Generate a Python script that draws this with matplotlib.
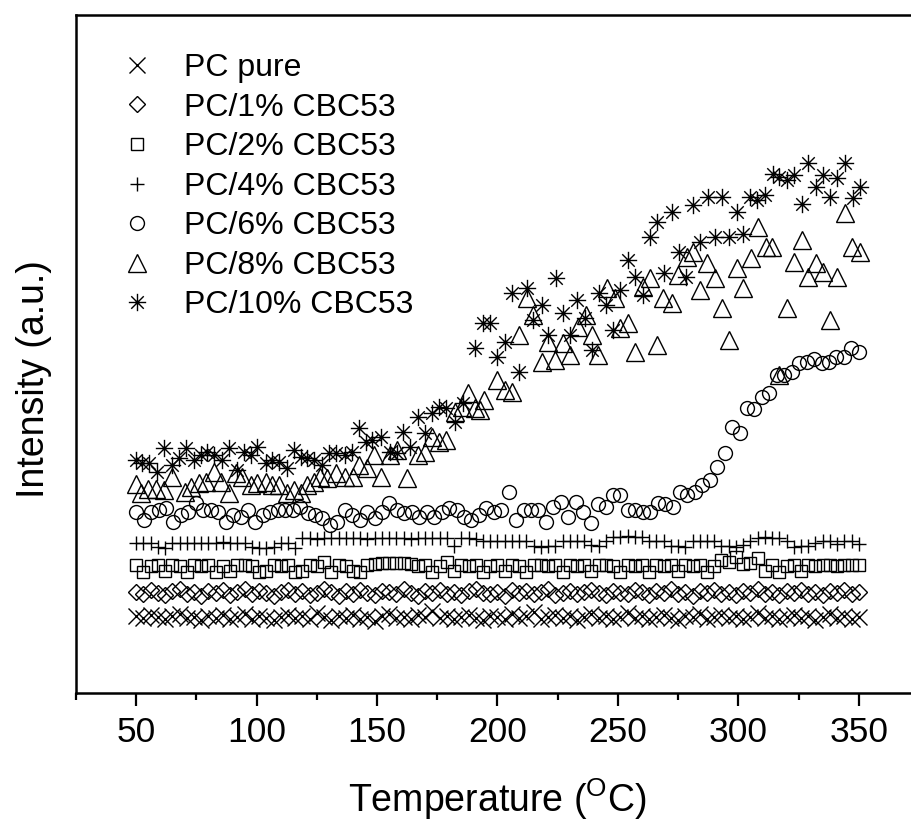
import numpy as np
import matplotlib
matplotlib.use("Agg")
import matplotlib.pyplot as plt
from matplotlib.path import Path
from matplotlib.legend_handler import HandlerTuple

plt.rcParams['font.family'] = ['Liberation Sans', 'DejaVu Sans']
plt.rcParams['mathtext.fontset'] = 'custom'
plt.rcParams['mathtext.rm'] = 'Liberation Sans'

# ---------------- data (intensity in arbitrary units) ----------------
labels = ["PC pure", "PC/1% CBC53", "PC/2% CBC53", "PC/4% CBC53",
          "PC/6% CBC53", "PC/8% CBC53", "PC/10% CBC53"]

pc_pure = [77,75,78,76,74,77,79,75,76,73,77,75,78,74,76,79,74,77,75,73,
           76,78,75,77,74,80,76,73,77,75,78,74,76,72,77,79,75,76,74,78,
           76,82,75,77,74,76,78,75,73,77,76,74,79,75,77,81,74,76,78,75,
           77,73,76,79,75,77,74,76,80,75,77,74,76,78,75,73,77,76,79,74,
           76,78,75,77,74,76,80,75,77,74,76,78,75,77,73,76,79,75,77,74,76]

pc_1 = [101,99,103,100,98,102,104,99,101,97,102,100,103,98,101,104,99,102,100,97,
        101,103,99,102,98,100,104,101,97,102,99,103,100,98,102,101,99,104,100,97,
        102,100,103,99,101,98,102,104,100,99,101,97,103,100,102,99,101,104,98,100,
        102,99,101,103,100,98,102,100,99,103,101,98,102,100,104,99,101,97,102,100,
        103,99,101,98,102,100,104,99,101,98,102,100,103,99,101,98,102,100,103,99,101]

pc_2 = [128,121,127,128,122,128,127,121,128,127,
        128,121,127,122,128,128,127,121,122,128,
        127,128,121,122,128,127,131,121,128,127,
        122,121,128,129,130,130,130,130,129,127,
        128,121,127,131,122,128,127,128,121,127,
        128,122,128,127,121,128,128,127,128,121,
        128,127,128,122,128,128,127,121,128,127,
        128,121,128,127,128,122,128,127,128,121,
        127,133,131,136,129,130,135,122,128,121,
        127,128,122,128,127,128,128,127,128,128,128]

pc_4 = [150,150,150,146,145,150,150,150,150,150,
        150,150,151,150,150,150,146,145,145,146,
        150,150,145,155,155,154,155,155,155,155,
        155,155,154,155,155,155,155,155,154,155,
        155,155,155,155,147,155,155,154,152,152,
        152,152,152,152,152,147,146,147,147,152,
        152,152,152,148,147,152,156,156,157,156,
        156,152,152,152,147,147,146,152,152,152,
        152,147,147,146,148,152,155,156,155,155,
        152,146,147,147,150,152,152,149,152,152,149]

pc_6 = [181,173,181,183,185,171,178,181,190,183,
        183,181,171,178,176,183,171,178,181,183,
        183,183,186,180,178,175,168,171,183,178,
        173,181,175,181,190,183,180,181,176,181,
        176,181,185,183,176,173,
        178,185,181,183,201,173,183,183,183,
        171,186,191,176,191,181,170,189,186,198,
        198,183,183,181,181,190,189,186,201,198,
        201,208,213,226,240,266,260,285,284,296,
        300,318,318,321,330,331,334,330,331,336,
        336,345,341]

pc_8_T = [50.0,52.1,55.0,58.3,61.6,65.0,70.4,72.9,76.2,79.1,
          82.4,85.3,88.7,91.6,94.1,97.8,100.3,104.0,106.5,109.4,
          112.8,115.7,118.6,121.1,124.0,126.1,129.4,133.1,136.5,139.8,
          142.7,146.0,148.9,151.8,155.2,158.1,162.6,166.8,169.7,172.6,
          175.9,178.8,182.2,185.1,187.6,190.5,192.6,194.6,199.6,203.0,
          205.9,208.8,212.1,214.6,218.3,220.8,223.7,227.1,230.0,233.3,
          236.6,239.1,241.6,245.3,248.7,250.7,254.1,257.0,260.3,263.2,
          266.1,268.6,272.4,274.9,278.6,281.1,284.0,286.9,290.2,293.1,
          296.0,299.4,301.9,305.2,308.1,311.4,313.9,316.8,320.2,323.1,
          326.4,328.9,332.2,335.1,338.0,340.9,344.3,347.2,350.5]
pc_8 = [209,200,204,204,203,216,201,206,210,211,
        221,211,200,220,216,208,210,211,208,208,
        200,203,200,208,211,216,215,220,216,216,
        228,225,238,216,238,243,215,238,241,256,
        251,253,281,286,300,285,283,293,313,303,
        301,358,395,378,331,351,333,350,338,366,
        378,358,338,405,395,365,370,341,406,415,
        348,395,390,418,436,441,403,430,415,385,
        353,425,405,435,466,446,446,318,385,431,
        453,416,430,421,373,416,480,446,441]

pc_10_T = [50.0,52.5,55.4,58.7,61.6,65.0,67.9,70.8,74.1,77.0,
           79.5,82.4,85.7,88.7,92.0,94.9,97.8,100.3,104.0,106.5,
           109.4,112.8,115.7,118.6,121.1,124.0,127.3,130.2,133.1,136.5,
           139.4,142.7,145.6,148.1,151.8,155.2,158.1,160.6,163.5,166.8,
           169.7,172.6,175.9,178.8,182.2,185.5,190.5,193.8,196.7,199.6,
           203.0,205.9,208.8,212.1,214.6,218.3,220.8,224.1,227.1,230.0,
           232.9,236.2,239.1,242.0,244.9,247.8,250.7,254.1,257.0,260.3,
           263.2,266.1,269.0,272.4,275.3,278.2,281.1,284.0,287.3,290.2,
           293.1,296.0,299.4,301.9,304.8,307.7,311.0,314.3,316.8,320.2,
           323.1,326.4,328.9,332.2,335.1,338.0,340.9,344.3,347.6,350.5]
pc_10 = [233,230,230,221,245,228,235,245,233,238,
         241,238,233,245,223,241,238,246,230,233,
         231,225,243,236,235,233,228,240,240,238,
         241,265,251,253,256,241,240,261,246,276,
         260,280,286,285,271,290,345,370,370,336,
         351,400,321,405,373,388,358,415,380,358,
         393,375,343,400,388,363,403,433,416,398,
         456,471,420,481,441,416,488,451,496,456,
         496,456,481,459,496,493,498,519,516,513,
         518,489,530,506,518,496,515,530,495,506]

x_major = [50, 100, 150, 200, 250, 300, 350]
x_minor = [25, 75, 125, 175, 225, 275, 325, 375]

# ---------------- figure ----------------
W, H = 911, 821
fig = plt.figure(figsize=(W / 100, H / 100), dpi=100)
ax = fig.add_axes([76 / W, (H - 693) / H, 843 / W, 678 / H])
ax.set_xlim(25, 375)
ax.set_ylim(0, 678)

d = 0.72
star_path = Path([(0, -1), (0, 1), (-1, 0), (1, 0), (-d, -d), (d, d), (-d, d), (d, -d)],
                 [Path.MOVETO, Path.LINETO] * 4)

mew = 1.0
common = dict(linestyle='none', color='black', markerfacecolor='none', markeredgewidth=mew)

def grid(vals):
    return np.linspace(50, 350, len(vals))

h0, = ax.plot(grid(pc_pure), pc_pure, marker='x', markersize=11, **common)
h1, = ax.plot(grid(pc_1), pc_1, marker='D', markersize=7.8, **common)
h2, = ax.plot(grid(pc_2), pc_2, marker='s', markersize=9.3, **common)
h3, = ax.plot(grid(pc_4), pc_4, marker='+', markersize=10.5, **common)
h4, = ax.plot(grid(pc_6), pc_6, marker='o', markersize=10, **common)
h5, = ax.plot(pc_8_T, pc_8, marker='^', markersize=12.5, **common)
h6, = ax.plot(pc_10_T, pc_10, marker=star_path, markersize=12.5, **common)
h6d, = ax.plot(pc_10_T, pc_10, linestyle='none', marker='o', markersize=2.6,
               color='black', markeredgewidth=0)

for s in ax.spines.values():
    s.set_linewidth(1.8)
ax.set_xticks(x_major)
ax.set_xticks(x_minor, minor=True)
ax.set_yticks([])
ax.tick_params(axis='x', which='major', direction='out', length=9.5, width=1.6,
               labelsize=25.5, pad=7)
ax.tick_params(axis='x', which='minor', direction='out', length=5, width=1.6)

ax.set_xlabel('Temperature ($\\mathregular{^{O}}$C)', fontsize=27, labelpad=20)
ax.set_ylabel('Intensity (a.u.)', fontsize=27)
ax.yaxis.set_label_coords(-0.029, 0.463)

leg = ax.legend([h0, h1, h2, h3, h4, h5, (h6, h6d)], labels,
                loc='upper left', bbox_to_anchor=(105 / W, 1 - 53 / H),
                bbox_transform=fig.transFigure, frameon=False, fontsize=23,
                handlelength=2, handletextpad=0.47, labelspacing=0.30,
                borderpad=0, borderaxespad=0, numpoints=1,
                handler_map={tuple: HandlerTuple(ndivide=1, pad=0)})

fig.savefig('out.png', dpi=100)
